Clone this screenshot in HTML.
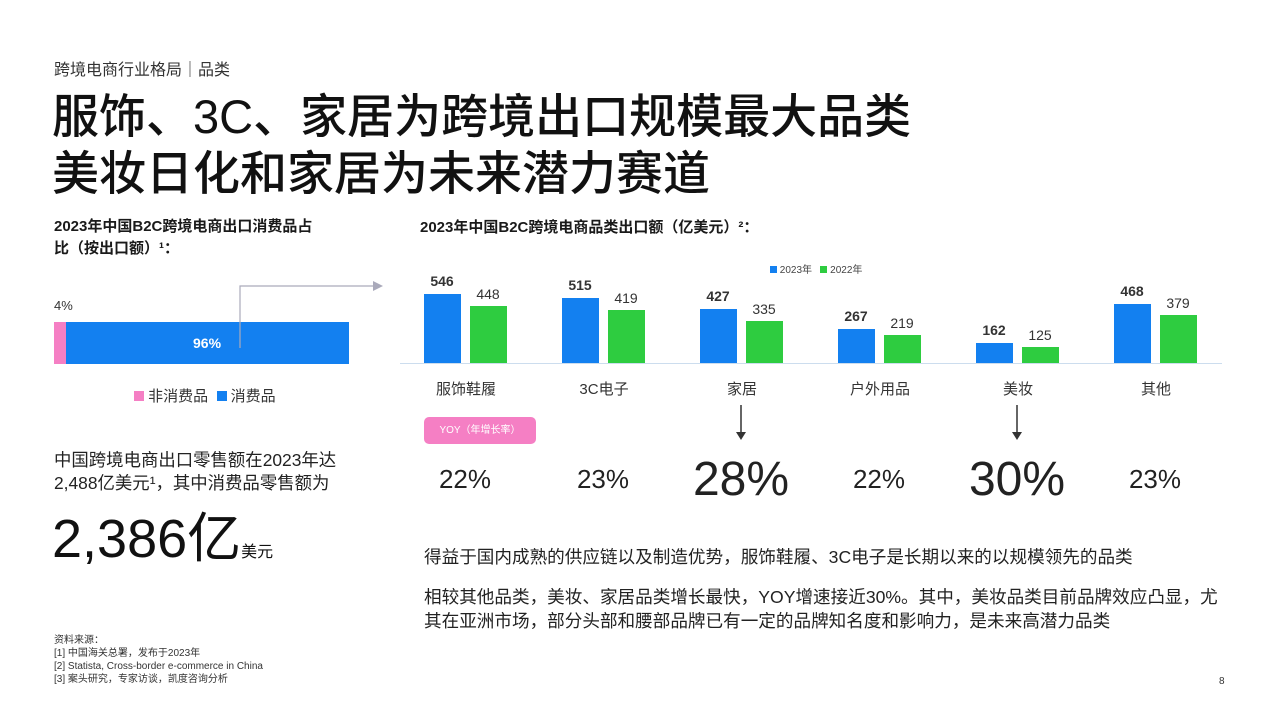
<!DOCTYPE html>
<html><head><meta charset="utf-8"><style>
body{margin:0;width:1280px;height:720px;background:#fff;position:relative;overflow:hidden;font-family:"Liberation Sans","Noto Sans CJK SC",sans-serif;color:#1a1a1a}
.a{position:absolute;white-space:nowrap}
.b{position:absolute;width:37px}
.bl{background:#1380f0}.gr{background:#2ecc40}
.v{position:absolute;width:60px;text-align:center;font-size:14px;color:#333}
.cat{position:absolute;width:120px;text-align:center;font-size:15px;color:#333;top:378px}
.yoy{position:absolute;width:138px;text-align:center;font-size:26px;color:#222;top:464px}
.big{font-size:48px;top:452px}
</style></head><body>
<div class="a" style="left:54px;top:56px;font-size:16px;color:#333">跨境电商行业格局｜品类</div>
<div class="a" style="left:52px;top:88px;font-size:47px;line-height:57px;font-weight:500;color:#111">服饰、3C、家居为跨境出口规模最大品类<br>美妆日化和家居为未来潜力赛道</div>
<div class="a" style="left:54px;top:216px;font-size:15px;font-weight:bold;line-height:22px">2023年中国B2C跨境电商出口消费品占<br>比（按出口额）¹：</div>
<div class="a" style="left:420px;top:216px;font-size:15px;font-weight:bold">2023年中国B2C跨境电商品类出口额（亿美元）²：</div>
<div class="a" style="left:54px;top:298px;font-size:13px;color:#333">4%</div>
<div class="a" style="left:54px;top:322px;width:12px;height:42px;background:#f57fc4"></div>
<div class="a" style="left:66px;top:322px;width:283px;height:42px;background:#1380f0"></div>
<div class="a" style="left:193px;top:335px;font-size:14px;color:#fff;font-weight:bold">96%</div>
<svg class="a" style="left:230px;top:278px" width="160" height="70"><polyline points="10,70 10,8 145,8" fill="none" stroke="#aab" stroke-width="1.2"/><polygon points="143,3 153,8 143,13" fill="#aab"/></svg>
<div class="a" style="left:134px;top:385px;font-size:15px;color:#333"><span style="display:inline-block;width:10px;height:10px;background:#f57fc4"></span> 非消费品 &nbsp;<span style="display:inline-block;width:10px;height:10px;background:#1380f0"></span> 消费品</div>
<div class="a" style="left:54px;top:449px;font-size:17.4px;line-height:23px;color:#222">中国跨境电商出口零售额在2023年达<br>2,488亿美元¹，其中消费品零售额为</div>
<div class="a" style="left:52px;top:494px;font-size:54px;color:#111">2,386亿<span style="font-size:16px">美元</span></div>
<div class="a" style="left:770px;top:261px;font-size:10px;color:#444"><span style="display:inline-block;width:7px;height:7px;background:#1380f0"></span> 2023年 &nbsp;&nbsp;<span style="display:inline-block;width:7px;height:7px;background:#2ecc40"></span> 2022年</div>
<div class="a" style="left:400px;top:363px;width:822px;height:1px;background:#cde"></div>
<div class="b bl" style="left:424px;top:294px;height:69px"></div><div class="b gr" style="left:470px;top:306px;height:57px"></div>
<div class="b bl" style="left:562px;top:298px;height:65px"></div><div class="b gr" style="left:608px;top:310px;height:53px"></div>
<div class="b bl" style="left:700px;top:309px;height:54px"></div><div class="b gr" style="left:746px;top:321px;height:42px"></div>
<div class="b bl" style="left:838px;top:329px;height:34px"></div><div class="b gr" style="left:884px;top:335px;height:28px"></div>
<div class="b bl" style="left:976px;top:343px;height:20px"></div><div class="b gr" style="left:1022px;top:347px;height:16px"></div>
<div class="b bl" style="left:1114px;top:304px;height:59px"></div><div class="b gr" style="left:1160px;top:315px;height:48px"></div>
<div class="v" style="left:412px;top:273px;font-weight:bold">546</div><div class="v" style="left:458px;top:286px">448</div>
<div class="v" style="left:550px;top:277px;font-weight:bold">515</div><div class="v" style="left:596px;top:290px">419</div>
<div class="v" style="left:688px;top:288px;font-weight:bold">427</div><div class="v" style="left:734px;top:301px">335</div>
<div class="v" style="left:826px;top:308px;font-weight:bold">267</div><div class="v" style="left:872px;top:315px">219</div>
<div class="v" style="left:964px;top:322px;font-weight:bold">162</div><div class="v" style="left:1010px;top:327px">125</div>
<div class="v" style="left:1102px;top:283px;font-weight:bold">468</div><div class="v" style="left:1148px;top:295px">379</div>
<div class="cat" style="left:406px">服饰鞋履</div><div class="cat" style="left:544px">3C电子</div><div class="cat" style="left:682px">家居</div><div class="cat" style="left:820px">户外用品</div><div class="cat" style="left:958px">美妆</div><div class="cat" style="left:1096px">其他</div>
<div class="a" style="left:424px;top:417px;width:112px;height:27px;background:#f57fc4;border-radius:5px;color:#fff;font-size:10px;line-height:27px;text-align:center">YOY（年增长率）</div>
<svg class="a" style="left:733px;top:405px" width="16" height="36"><line x1="8" y1="0" x2="8" y2="33" stroke="#333" stroke-width="1.5"/><polygon points="3,27 13,27 8,35" fill="#333"/></svg>
<svg class="a" style="left:1009px;top:405px" width="16" height="36"><line x1="8" y1="0" x2="8" y2="33" stroke="#333" stroke-width="1.5"/><polygon points="3,27 13,27 8,35" fill="#333"/></svg>
<div class="yoy" style="left:396px">22%</div><div class="yoy" style="left:534px">23%</div><div class="yoy big" style="left:672px">28%</div><div class="yoy" style="left:810px">22%</div><div class="yoy big" style="left:948px">30%</div><div class="yoy" style="left:1086px">23%</div>
<div class="a" style="left:424px;top:544px;font-size:17.6px;color:#222">得益于国内成熟的供应链以及制造优势，服饰鞋履、3C电子是长期以来的以规模领先的品类</div>
<div class="a" style="left:424px;top:585px;font-size:17.6px;line-height:24px;color:#222">相较其他品类，美妆、家居品类增长最快，YOY增速接近30%。其中，美妆品类目前品牌效应凸显，尤<br>其在亚洲市场，部分头部和腰部品牌已有一定的品牌知名度和影响力，是未来高潜力品类</div>
<div class="a" style="left:54px;top:634px;font-size:10px;line-height:13px;color:#333">资料来源：<br>[1] 中国海关总署，发布于2023年<br>[2] Statista, Cross-border e-commerce in China<br>[3] 案头研究，专家访谈，凯度咨询分析</div>
<div class="a" style="left:1219px;top:676px;font-size:10px;color:#333">8</div>
</body></html>
